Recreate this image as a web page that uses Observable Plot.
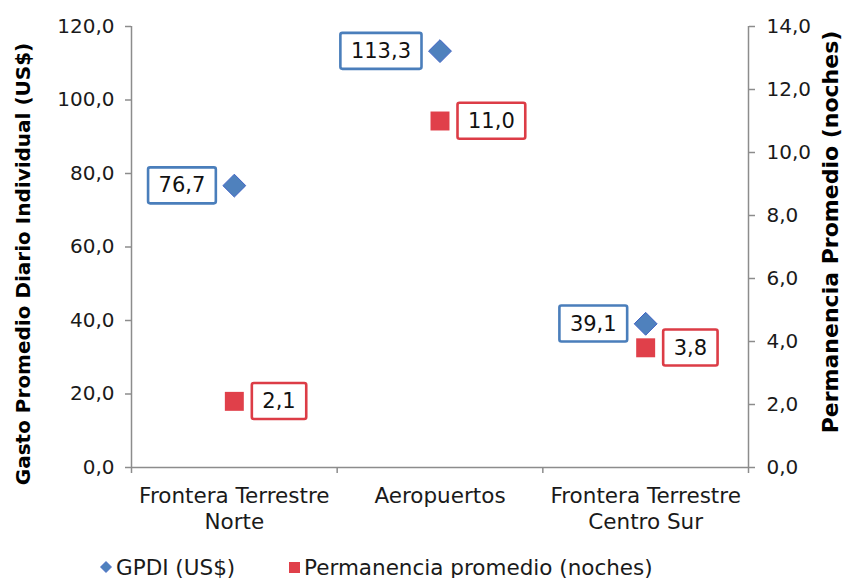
<!DOCTYPE html>
<html><head><meta charset="utf-8">
<script src="https://cdn.jsdelivr.net/npm/d3@7"></script>
<script src="https://cdn.jsdelivr.net/npm/@observablehq/plot@0.6"></script>
<style>
body{margin:0;background:#fff;font-family:"DejaVu Sans",Verdana,sans-serif;}
#chart svg{display:block;}
#legend{position:relative;width:842px;height:33px;font-size:21.5px;color:#1a1a1a;}
#legend .item{position:absolute;top:11px;height:22px;display:flex;align-items:center;white-space:nowrap;}
#legend svg{display:block;margin-right:4px;}
</style></head><body>
<div id="chart"></div>
<div id="legend"></div>
<script>
const categories = ["Frontera Terrestre\nNorte", "Aeropuertos", "Frontera Terrestre\nCentro Sur"];
const gpdi = [76.7, 113.3, 39.1];
const permanencia = [2.1, 11.0, 3.8];
const leftTicks = [0, 20, 40, 60, 80, 100, 120];
const rightTicks = [0, 2, 4, 6, 8, 10, 12, 14];
const seriesNames = ["GPDI (US$)", "Permanencia promedio (noches)"];
const axisTitles = ["Gasto Promedio Diario Individual (US$)", "Permanencia Promedio (noches)"];

const blue = "#4F81BD", blueEdge = "#3F62C4", red = "#E0404A", axisGray = "#8C8C8C";
const k = 120 / 14;
const fmt = d => (Math.round(d * 10) / 10).toFixed(1).replace(".", ",");
const rows = categories.map((c, i) => ({i, c, g: gpdi[i], p: permanencia[i]}));

const plot = Plot.plot({
  width: 842, height: 545,
  marginLeft: 131, marginRight: 94, marginTop: 26, marginBottom: 78,
  style: {fontFamily: "'DejaVu Sans', Verdana, sans-serif", fontSize: "20px", color: "#1a1a1a", background: "#fff"},
  x: {domain: [-0.5, 2.5]},
  y: {domain: [0, 120]},
  marks: [
    Plot.axisY({anchor: "left", ticks: leftTicks, tickFormat: fmt, tickSize: 6, tickPadding: 11, label: null, stroke: axisGray, strokeWidth: 1.5}),
    Plot.axisY(rightTicks.map(d => d * k), {anchor: "right", tickFormat: d => fmt(d / k), tickSize: 6, tickPadding: 12, label: null, stroke: axisGray, strokeWidth: 1.5}),
    Plot.axisX([-0.5, 0.5, 1.5, 2.5], {tickSize: 6, tickFormat: () => "", label: null, stroke: axisGray, strokeWidth: 1.5}),
    Plot.ruleY([0], {stroke: axisGray, strokeWidth: 1.5}),
    Plot.ruleX([-0.5, 2.5], {stroke: axisGray, strokeWidth: 1.5}),
    Plot.text(rows, {x: "i", y: () => 0, text: "c", lineAnchor: "top", dy: 18, lineHeight: 1.17, fontSize: 21.5, fill: "#1a1a1a"}),
    Plot.text([axisTitles[0]], {frameAnchor: "left", rotate: -90, dx: -108, dy: 17, textAnchor: "middle", lineAnchor: "middle", fontWeight: "bold", fontSize: 20, fill: "#000"}),
    Plot.text([axisTitles[1]], {frameAnchor: "right", rotate: -90, dx: 82, dy: -15, textAnchor: "middle", lineAnchor: "middle", fontWeight: "bold", fontSize: 22, fill: "#000"}),
    Plot.dot(rows, {x: "i", y: "g", symbol: "diamond2", r: 10.3, fill: blue, stroke: blueEdge, strokeWidth: 1}),
    Plot.dot(rows, {x: "i", y: d => d.p * k, symbol: "square", r: 10.7, fill: red}),
    Plot.text(rows, {x: "i", y: "g", text: d => fmt(d.g), textAnchor: "end", lineAnchor: "middle", dx: -29, fontSize: 21, fill: "#111"}),
    Plot.text(rows, {x: "i", y: d => d.p * k, text: d => fmt(d.p), textAnchor: "start", lineAnchor: "middle", dx: 28, fontSize: 21, fill: "#111"})
  ]
});
document.getElementById("chart").appendChild(plot);

function boxLabels(labels, color) {
  const want = labels.join("|");
  plot.querySelectorAll("g").forEach(g => {
    const ts = [...g.children].filter(c => c.tagName.toLowerCase() === "text");
    if (ts.length !== labels.length || ts.map(t => t.textContent).join("|") !== want) return;
    ts.forEach(t => {
      const b = t.getBBox();
      const cy = b.y + b.height / 2;
      const r = document.createElementNS("http://www.w3.org/2000/svg", "rect");
      const pad = 10.5;
      r.setAttribute("x", b.x - pad);
      r.setAttribute("width", b.width + 2 * pad);
      r.setAttribute("y", cy - 18);
      r.setAttribute("height", 36);
      r.setAttribute("rx", 2);
      r.setAttribute("fill", "#fff");
      r.setAttribute("stroke", color);
      r.setAttribute("stroke-width", 2.6);
      if (t.getAttribute("transform")) r.setAttribute("transform", t.getAttribute("transform"));
      g.insertBefore(r, t);
    });
  });
}
boxLabels(gpdi.map(fmt), "#4A7EBB");
boxLabels(permanencia.map(fmt), "#DC3C46");

const legend = document.getElementById("legend");
const items = [
  {name: seriesNames[0], left: 100, svg: `<svg width="12" height="12" viewBox="-6 -6 12 12"><path d="M0,-5.5L5.5,0L0,5.5L-5.5,0Z" fill="${blue}" stroke="${blueEdge}" stroke-width="0.8"/></svg>`},
  {name: seriesNames[1], left: 289, svg: `<svg width="11" height="11"><rect width="11" height="11" fill="${red}"/></svg>`}
];
items.forEach(it => {
  const d = document.createElement("div");
  d.className = "item";
  d.style.left = it.left + "px";
  d.innerHTML = it.svg + `<span>${it.name}</span>`;
  legend.appendChild(d);
});
</script>
</body></html>
